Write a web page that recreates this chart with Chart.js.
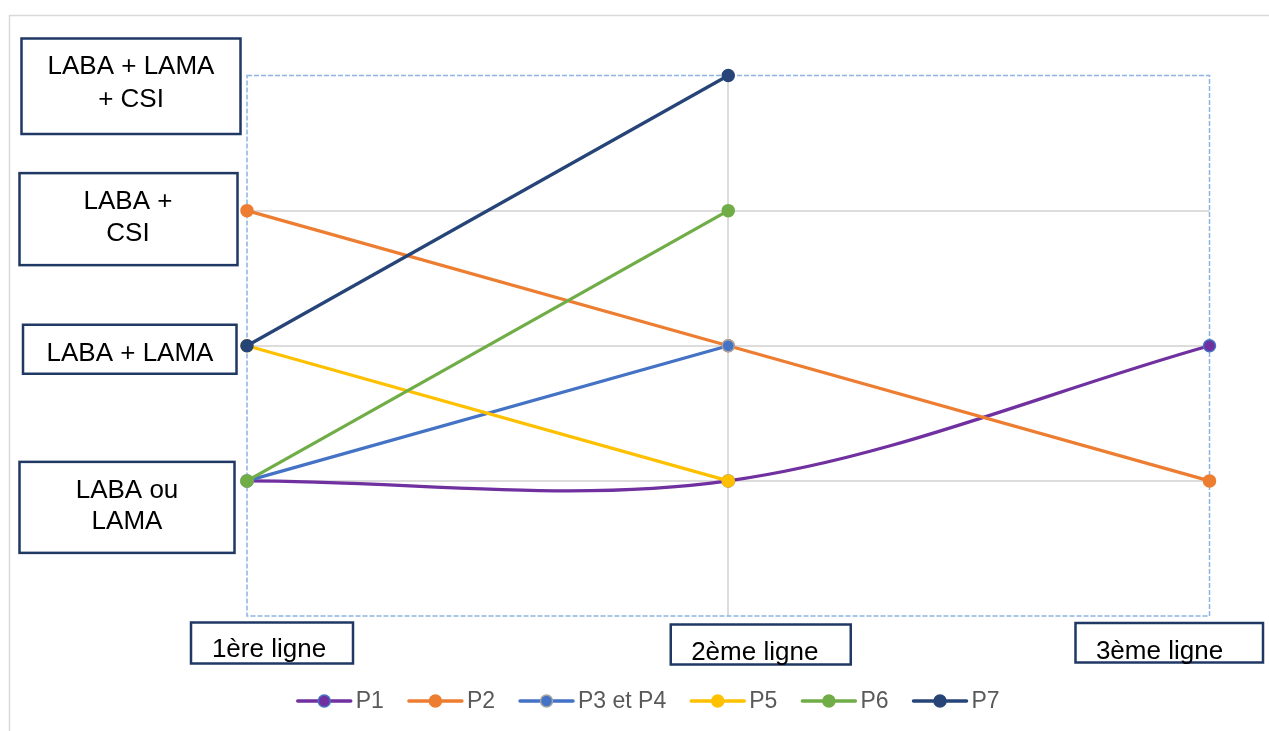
<!DOCTYPE html>
<html lang="fr">
<head>
<meta charset="utf-8">
<title>Lignes de traitement</title>
<script src="https://cdn.jsdelivr.net/npm/chart.js@4.4.1/dist/chart.umd.min.js"></script>
<style>
  html, body { margin: 0; padding: 0; background: #ffffff; }
  #wrap { width: 1269px; height: 731px; position: relative; }
</style>
</head>
<body>
<div id="wrap"><canvas id="c" width="1269" height="731"></canvas></div>
<script>
// Treatment lines (x) and therapy levels (y: 1 = LABA ou LAMA ... 4 = LABA + LAMA + CSI)
const categories = ['1ère ligne', '2ème ligne', '3ème ligne'];
const levelLabels = [['LABA ou', 'LAMA'], ['LABA + LAMA'], ['LABA +', 'CSI'], ['LABA + LAMA', '+ CSI']];
const seriesNames = ['P1', 'P2', 'P3 et P4', 'P5', 'P6', 'P7'];
const p1 = [1, 1, 2];
const p2 = [3, 2, 1];
const p3p4 = [1, 2, null];
const p5 = [2, 1, null];
const p6 = [1, 3, null];
const p7 = [2, 4, null];

const FONT = '"Liberation Sans", Arial, sans-serif';
const NAVY_BOX = '#1f3864';

function series(label, data, color, opts) {
  return Object.assign({
    label, data,
    borderColor: color,
    backgroundColor: color,
    pointBackgroundColor: color,
    pointBorderColor: color,
    pointBorderWidth: 1.5,
    pointRadius: 6,
    pointHoverRadius: 6,
    borderWidth: 3.25,
    tension: 0,
    clip: false,
    spanGaps: false
  }, opts || {});
}

const datasets = [
  series(seriesNames[0], p1, '#7030a0', { pointBorderColor: '#4472c4', tension: 0.34, order: 5 }),
  series(seriesNames[1], p2, '#ed7d31', { order: 4 }),
  series(seriesNames[2], p3p4, '#4472c4', { pointBorderColor: '#a5a5a5', order: 3 }),
  series(seriesNames[3], p5, '#ffc000', { order: 2 }),
  series(seriesNames[4], p6, '#70ad47', { order: 1 }),
  series(seriesNames[5], p7, '#264478', { order: 0 })
];

// Outer frame and dashed plot border
const framePlugin = {
  id: 'frame',
  beforeDraw(chart) {
    const ctx = chart.ctx;
    ctx.save();
    ctx.fillStyle = '#ffffff';
    ctx.fillRect(0, 0, chart.width, chart.height);
    ctx.strokeStyle = '#d9d9d9';
    ctx.lineWidth = 1.5;
    ctx.strokeRect(9.5, 15.5, chart.width + 20, chart.height + 20);
    ctx.restore();
  },
  beforeDatasetsDraw(chart) {
    const { ctx, chartArea: a } = chart;
    ctx.save();
    ctx.strokeStyle = '#8db4e2';
    ctx.lineWidth = 1.5;
    ctx.setLineDash([5, 2]);
    ctx.strokeRect(a.left, a.top, a.right - a.left, a.bottom - a.top);
    ctx.restore();
  }
};

// Boxed level labels, boxed line labels and the legend
const labelsPlugin = {
  id: 'boxedLabels',
  afterDraw(chart) {
    const ctx = chart.ctx;
    const y = chart.scales.y, x = chart.scales.x;
    ctx.save();
    ctx.font = '26px ' + FONT;
    ctx.textAlign = 'center';
    ctx.textBaseline = 'alphabetic';

    function box(l, t, r, b) {
      ctx.fillStyle = '#ffffff';
      ctx.fillRect(l, t, r - l, b - t);
      ctx.strokeStyle = NAVY_BOX;
      ctx.lineWidth = 2.5;
      ctx.strokeRect(l, t, r - l, b - t);
    }

    // level boxes: left/right edges, top/bottom offsets from the level pixel, text baseline offsets
    const levelBoxes = [
      { l: 19.5, r: 234.5, t: -19, b: 72, cx: 127, base: [17, 48] },
      { l: 23, r: 236.5, t: -21, b: 28, cx: 130, base: [15] },
      { l: 19.5, r: 237.5, t: -37.5, b: 54.5, cx: 128, base: [-2, 30] },
      { l: 21.5, r: 240.5, t: -37, b: 58.5, cx: 131, base: [-1.5, 31.5] }
    ];
    levelLabels.forEach((lines, i) => {
      const py = y.getPixelForValue(i + 1);
      const g = levelBoxes[i];
      box(g.l, py + g.t, g.r, py + g.b);
      ctx.fillStyle = '#000000';
      lines.forEach((s, k) => ctx.fillText(s, g.cx, py + g.base[k]));
    });

    // line boxes below the plot, positioned from each category pixel
    const catBoxes = [
      { l: -56, r: 106, t: 622.5, b: 663.5, dx: 22, base: 657 },
      { l: -57.5, r: 122.5, t: 624.5, b: 664.5, dx: 26.5, base: 659.5 },
      { l: -134, r: 53.5, t: 623, b: 662.5, dx: -50, base: 658.5 }
    ];
    categories.forEach((s, i) => {
      const px = x.getPixelForValue(i);
      const g = catBoxes[i];
      box(px + g.l, g.t, px + g.r, g.b);
      ctx.fillStyle = '#000000';
      ctx.fillText(s, px + g.dx, g.base);
    });

    // legend
    ctx.font = '23px ' + FONT;
    ctx.textAlign = 'left';
    ctx.textBaseline = 'middle';
    const lineW = 53, gapText = 5, gapItem = 25, ly = 701;
    const widths = chart.data.datasets.map(d => lineW + gapText + ctx.measureText(d.label).width);
    const total = widths.reduce((a, b) => a + b, 0) + gapItem * (widths.length - 1);
    let lx = 648.7 - total / 2;
    chart.data.datasets.forEach((d, i) => {
      ctx.strokeStyle = d.borderColor;
      ctx.lineWidth = 3.5;
      ctx.lineCap = 'round';
      ctx.beginPath();
      ctx.moveTo(lx, ly);
      ctx.lineTo(lx + lineW, ly);
      ctx.stroke();
      ctx.beginPath();
      ctx.arc(lx + lineW / 2, ly, 6, 0, Math.PI * 2);
      ctx.fillStyle = d.pointBackgroundColor;
      ctx.fill();
      ctx.lineWidth = 1.5;
      ctx.strokeStyle = d.pointBorderColor;
      ctx.stroke();
      ctx.fillStyle = '#595959';
      ctx.fillText(d.label, lx + lineW + gapText, ly + 1);
      lx += widths[i] + gapItem;
    });
    ctx.restore();
  }
};

new Chart(document.getElementById('c'), {
  type: 'line',
  data: { labels: categories, datasets },
  options: {
    responsive: false,
    devicePixelRatio: 1,
    animation: false,
    events: [],
    layout: { padding: { left: 247, right: 59.5, top: 75.5, bottom: 115 } },
    plugins: { legend: { display: false }, tooltip: { enabled: false } },
    scales: {
      x: {
        type: 'category',
        offset: false,
        border: { display: false },
        ticks: { display: false },
        grid: {
          drawTicks: false,
          lineWidth: 2,
          color: c => (c.index === 1 ? '#dcdcdc' : 'rgba(0,0,0,0)')
        }
      },
      y: {
        min: 0,
        max: 4,
        border: { display: false },
        ticks: { display: false, stepSize: 1 },
        grid: {
          drawTicks: false,
          lineWidth: 2,
          color: c => (c.tick && c.tick.value > 0 && c.tick.value < 4 ? '#dcdcdc' : 'rgba(0,0,0,0)')
        }
      }
    }
  },
  plugins: [framePlugin, labelsPlugin]
});
</script>
</body>
</html>
